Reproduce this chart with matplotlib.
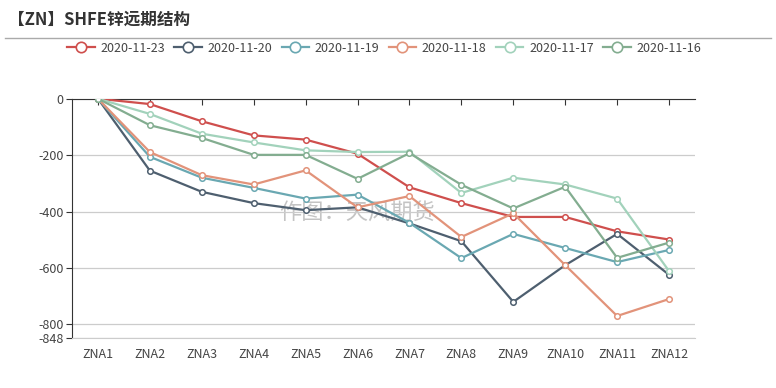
import matplotlib.pyplot as plt
from matplotlib.lines import Line2D

plt.rcParams['font.family'] = ['Noto Sans CJK SC', 'DejaVu Sans']

# data
contracts = ["ZNA1", "ZNA2", "ZNA3", "ZNA4", "ZNA5", "ZNA6",
             "ZNA7", "ZNA8", "ZNA9", "ZNA10", "ZNA11", "ZNA12"]
dates = ["2020-11-23", "2020-11-20", "2020-11-19",
         "2020-11-18", "2020-11-17", "2020-11-16"]
d1123 = [0, -19, -80, -130, -145, -195, -314, -370, -419, -419, -470, -499]
d1120 = [0, -255, -330, -370, -395, -385, -442, -505, -720, -590, -479, -624]
d1119 = [0, -206, -280, -316, -354, -340, -440, -565, -479, -529, -579, -536]
d1118 = [0, -189, -271, -304, -254, -385, -345, -490, -406, -590, -770, -710]
d1117 = [0, -54, -124, -155, -183, -189, -188, -334, -280, -304, -354, -611]
d1116 = [0, -94, -139, -199, -199, -284, -193, -305, -389, -312, -564, -510]
yticks = [0, -200, -400, -600, -800, -848]

series = [d1123, d1120, d1119, d1118, d1117, d1116]
colors = ["#cf4f4d", "#4e5f6f", "#6aa8b2", "#e2937a", "#a2d2bb", "#83ad90"]

fig = plt.figure(figsize=(7.76, 3.88), dpi=100)
ax = fig.add_axes([72/776, 1-338/388, 623/776, (338-98.7)/388])

x = range(len(contracts))
for vals, c, lab in zip(series, colors, dates):
    ax.plot(x, vals, color=c, lw=1.6, marker="o", ms=4,
            mfc="white", mec=c, mew=1.1, label=lab, zorder=3)

ax.set_xlim(-0.5, 11.5)
ax.set_ylim(-848, 0)
ax.set_yticks(yticks)
ax.set_yticklabels([str(v) for v in yticks], fontsize=9, color="#444444")
ax.tick_params(axis="y", length=4, color="#333333", pad=2)
ax.grid(axis="y", color="#cccccc", lw=0.9, zorder=0)

# x axis line sits on zero (top), labels at bottom
ax.set_xticks(list(x))
ax.set_xticklabels(contracts, fontsize=9, color="#444444")
ax.tick_params(axis="x", which="both", bottom=False, top=True,
               direction="in", length=4, color="#333333", pad=7)
ax.spines["right"].set_visible(False)
ax.spines["bottom"].set_color("#cccccc")
ax.spines["top"].set_color("#333333")
ax.spines["left"].set_color("#333333")

# watermark
ax.text(5.0, -405, "作图：天风期货", fontsize=16, color="#c4c4c4",
        ha="center", va="center", zorder=1)

# title and separator
fig.text(8/776, 1-20/388, "【ZN】SHFE锌远期结构", fontsize=12,
         fontweight="bold", color="#333333", va="center", ha="left")
fig.add_artist(Line2D([5/776, 771/776], [1-38/388, 1-38/388],
                      color="#aaaaaa", lw=1))

handles = [Line2D([], [], color=c, lw=1.6, marker="o", ms=7.5, mfc="white",
                  mec=c, mew=1.2) for c in colors]
leg = fig.legend(handles, dates, loc="center",
                 bbox_to_anchor=(384/776, 1-48/388), ncol=6,
                 frameon=False, fontsize=9, handlelength=2.2,
                 columnspacing=0.75, handletextpad=0.45)
for t in leg.get_texts():
    t.set_color("#444444")

fig.savefig("out.png", dpi=100)
